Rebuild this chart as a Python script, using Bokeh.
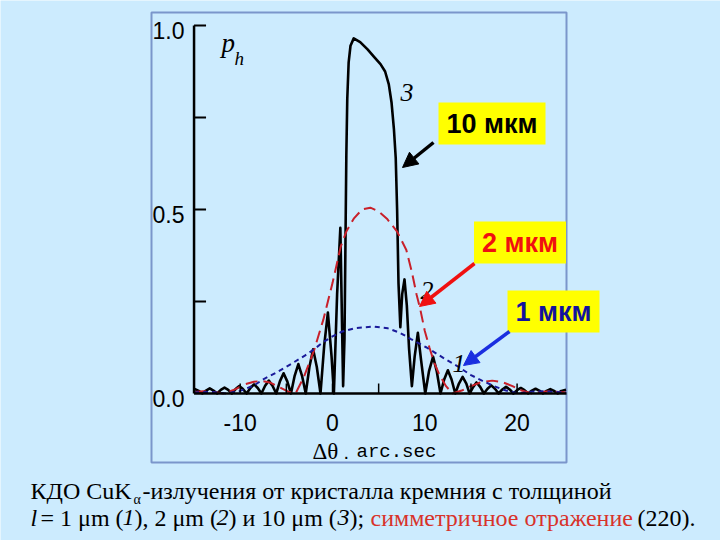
import math
from bokeh.plotting import figure
from bokeh.models import Label, Arrow, NormalHead, Range1d
from bokeh.core.properties import value
from bokeh.embed import file_html
from bokeh.resources import INLINE

# ---------------- data ----------------
# curve 3: 10 um crystal (black, solid)
x10 = [-15.0, -14.9, -14.5, -14.1, -13.7, -13.3, -12.9, -12.5, -12.1, -11.7,
       -11.3, -10.9, -10.5, -10.1, -9.7, -9.3, -8.9, -8.5, -8.1, -7.7,
       -7.3, -6.9, -6.5, -6.1, -5.7, -5.3, -4.9, -4.5, -4.1, -3.7,
       -3.3, -2.9, -2.5, -2.1, -1.7, -1.3, -0.9, -0.5, -0.1, 0.15,
       0.5, 0.85, 1.15, 1.3, 1.4, 1.5, 1.6, 1.75, 1.95, 2.3,
       3.0, 3.8, 4.5, 5.2, 5.7, 6.1, 6.4, 6.65, 6.85, 7.0,
       7.15, 7.35, 7.55, 7.8, 8.05, 8.3, 8.6, 8.9, 9.25, 9.6,
       10.05, 10.45, 10.9, 11.3, 11.7, 12.1, 12.5, 12.9, 13.3, 13.7,
       14.1, 14.5, 14.85, 15.25, 15.6, 16.0, 16.4, 16.8, 17.2, 17.6,
       18.0, 18.4, 18.8, 19.2, 19.6, 20.0, 20.4, 20.8, 21.2, 21.6,
       22.0, 22.4, 22.8, 23.2, 23.6, 24.0, 24.4, 24.8, 25.3]
y10 = [0.011, 0.012, 0.007, 0.0, 0.008, 0.014, 0.008, 0.0, 0.01, 0.016,
       0.01, 0.0, 0.012, 0.02, 0.012, 0.0, 0.015, 0.025, 0.015, 0.0,
       0.021, 0.035, 0.021, 0.0, 0.033, 0.055, 0.033, 0.0, 0.048, 0.08,
       0.048, 0.0, 0.072, 0.12, 0.072, 0.0, 0.13, 0.22, 0.1, 0.0,
       0.27, 0.45, 0.02, 0.15, 0.4, 0.65, 0.8, 0.9, 0.945, 0.965,
       0.955, 0.935, 0.915, 0.895, 0.875, 0.84, 0.79, 0.72, 0.64, 0.5,
       0.3, 0.18, 0.27, 0.31, 0.24, 0.12, 0.02, 0.1, 0.165, 0.09,
       0.0, 0.06, 0.10, 0.06, 0.0, 0.038, 0.063, 0.038, 0.0, 0.027,
       0.045, 0.027, 0.0, 0.018, 0.03, 0.018, 0.0, 0.013, 0.022, 0.013,
       0.0, 0.011, 0.018, 0.011, 0.0, 0.009, 0.015, 0.009, 0.0, 0.008,
       0.013, 0.008, 0.0, 0.007, 0.012, 0.007, 0.0, 0.007, 0.01]

# curve 2: 2 um crystal (red, long dashes)
x2 = [-15.0, -14.0, -13.0, -11.7, -10.5, -9.5, -8.5, -7.7, -6.8, -5.8,
      -4.8, -4.0, -3.1, -2.0, -1.0, -0.5, 0.0, 0.9, 1.5, 2.3,
      3.2, 4.1, 5.0, 5.9, 7.0, 8.0, 8.6, 9.1, 9.5, 10.0,
      10.5, 11.0, 11.6, 12.3, 13.0, 14.0, 15.0, 16.0, 17.3, 18.5,
      19.5, 20.5, 21.6, 22.5, 23.5, 25.3]
y2 = [0.004, 0.006, 0.004, 0.0, 0.012, 0.025, 0.032, 0.034, 0.03, 0.018,
      0.005, 0.0, 0.045, 0.117, 0.2, 0.25, 0.3, 0.40, 0.44, 0.475,
      0.5, 0.505, 0.495, 0.475, 0.44, 0.39, 0.33, 0.27, 0.23, 0.17,
      0.125, 0.085, 0.05, 0.02, 0.0, 0.008, 0.02, 0.03, 0.035, 0.03,
      0.02, 0.008, 0.0, 0.004, 0.006, 0.003]

# curve 1: 1 um crystal (blue, short dashes)
x1 = [-15.0, -13.0, -11.5, -10.0, -8.5, -7.4, -6.0, -4.5, -3.0, -2.0,
      -1.0, 0.0, 1.0, 2.5, 4.4, 6.0, 7.3, 8.5, 10.2, 12.0,
      13.8, 15.0, 16.2, 17.5, 18.8, 20.2, 21.5, 23.0, 25.3]
y1 = [0.003, 0.004, 0.0, 0.007, 0.022, 0.04, 0.058, 0.08, 0.103, 0.12,
      0.14, 0.155, 0.168, 0.178, 0.182, 0.177, 0.165, 0.148, 0.125, 0.097,
      0.07, 0.05, 0.035, 0.02, 0.008, 0.0, 0.005, 0.006, 0.003]

y_tick_vals = [0.25, 0.5, 0.75, 1.0]
x_tick_vals = [-10, -5, 0, 5, 10, 15, 20]
y_label_vals = [0.0, 0.5, 1.0]
y_labels = ["0.0", "0.5", "1.0"]
x_label_vals = [-10, 0, 10, 20]
x_labels = ["-10", "0", "10", "20"]
axis_x = [-15.0, 25.35]
axis_y = [0.0, 1.0]

# ---------------- layout helpers (page pixels -> data) ----------------
BG = "#CCEBFE"
X0, SX, Y0, SY = 332.0, 9.23, 393.0, 368.0


def px(X):
    return (X - X0) / SX


def py(Y):
    return (Y0 - Y) / SY


W, H = 720, 540
BOX_L, BOX_R, BOX_T, BOX_B = 151, 566, 12, 462

p = figure(width=W, height=H,
           x_range=Range1d(px(0), px(W)), y_range=Range1d(py(H), py(0)),
           output_backend="svg", toolbar_location=None,
           x_axis_location=None, y_axis_location=None,
           min_border_left=0, min_border_right=0,
           min_border_top=0, min_border_bottom=0)
p.background_fill_color = BG
p.border_fill_color = BG
p.outline_line_color = None
p.xgrid.visible = False
p.ygrid.visible = False

# panel frame
p.quad(left=[px(BOX_L)], right=[px(BOX_R)], top=[py(BOX_T)], bottom=[py(BOX_B)],
       fill_color=None, line_color="#7B96CB", line_width=2)

# curves
p.line(x10, y10, line_color="black", line_width=2.6, line_join="round")
p.line(x2, y2, line_color="#C8202A", line_width=2, line_dash="12 6")
p.line(x1, y1, line_color="#1A1A9A", line_width=2, line_dash="5 4")

# hand-drawn style axes
p.line(x=axis_x, y=[0, 0], line_color="black", line_width=2.5)
p.line(x=[axis_x[0], axis_x[0]], y=axis_y, line_color="black", line_width=2.5)
p.ray(x=[axis_x[0]] * len(y_tick_vals), y=y_tick_vals, length=12,
      length_units="screen", angle=0, line_color="black", line_width=2)
p.ray(x=x_tick_vals, y=[0] * len(x_tick_vals), length=10,
      length_units="screen", angle=math.pi / 2, line_color="black", line_width=1.5)

TF = "Liberation Sans"
p.text(x=[px(152)] * len(y_label_vals), y=[v - 5 / SY for v in y_label_vals],
       text=y_labels, text_font=value(TF), text_font_size="23px",
       text_align="left", text_baseline="middle", text_color="black")
p.text(x=x_label_vals, y=[py(422)] * len(x_label_vals), text=x_labels,
       text_font=value(TF), text_font_size="23px",
       text_align="center", text_baseline="middle", text_color="black")


def add_label(text, X, Y, size, color="black", font="Liberation Serif",
              style="normal", align="left", baseline="alphabetic", **kw):
    p.add_layout(Label(x=px(X), y=py(Y), text=text, text_font=font,
                       text_font_size=f"{size}px", text_color=color,
                       text_font_style=style, text_align=align,
                       text_baseline=baseline, **kw))


# axis titles
add_label("p", 221, 42, 27, style="italic")
add_label("h", 234, 58, 19, style="italic")
add_label("Δθ", 312, 451, 23)
add_label(".", 343, 451, 20, font="Liberation Sans")
add_label("arc.sec", 356, 451, 19, font="Liberation Mono")

# curve numbers
add_label("3", 400, 92, 26, style="italic")
add_label("2", 420, 290, 26, style="italic")
add_label("1", 452, 363, 26, style="italic")

# call-out boxes
pad = dict(left=8, right=8, top=6, bottom=6)
add_label("10 мкм", 491.5, 123, 27, font="Liberation Sans", style="bold",
          align="center", baseline="middle", background_fill_color="#FFFF00", padding=pad)
add_label("2 мкм", 519.5, 242, 27, color="#F01010", font="Liberation Sans", style="bold",
          align="center", baseline="middle", background_fill_color="#FFFF00", padding=pad)
add_label("1 мкм", 553, 311, 27, color="#12129E", font="Liberation Sans", style="bold",
          align="center", baseline="middle", background_fill_color="#FFFF00", padding=pad)

p.add_layout(Arrow(x_start=px(433), y_start=py(142), x_end=px(402), y_end=py(167),
                   line_color="black", line_width=3.5,
                   end=NormalHead(size=15, fill_color="black", line_color="black")))
p.add_layout(Arrow(x_start=px(474), y_start=py(263), x_end=px(419), y_end=py(306),
                   line_color="#F01010", line_width=3.5,
                   end=NormalHead(size=15, fill_color="#F01010", line_color="#F01010")))
p.add_layout(Arrow(x_start=px(509), y_start=py(331), x_end=px(463), y_end=py(365),
                   line_color="#1A2EE0", line_width=3.5,
                   end=NormalHead(size=15, fill_color="#1A2EE0", line_color="#1A2EE0")))

# caption
CS = 24
add_label("КДО CuK", 30, 490, CS)
add_label("α", 133, 499, 14)
add_label("-излучения от кристалла кремния с толщиной", 142, 490, CS)

add_label("l", 30, 517, CS, style="italic")
add_label("= 1 μm (", 40, 517, CS)
add_label("1", 122, 517, CS, style="italic")
add_label("), 2 μm (", 134, 517, CS)
add_label("2", 216, 517, CS, style="italic")
add_label(") и 10 μm (", 228, 517, CS)
add_label("3", 337, 517, CS, style="italic")
add_label(");", 349, 517, CS)
add_label("симметричное отражение", 370, 517, CS, color="#D8322A")
add_label("(220).", 637, 517, CS)

open("out.html", "w").write(file_html(p, INLINE))
